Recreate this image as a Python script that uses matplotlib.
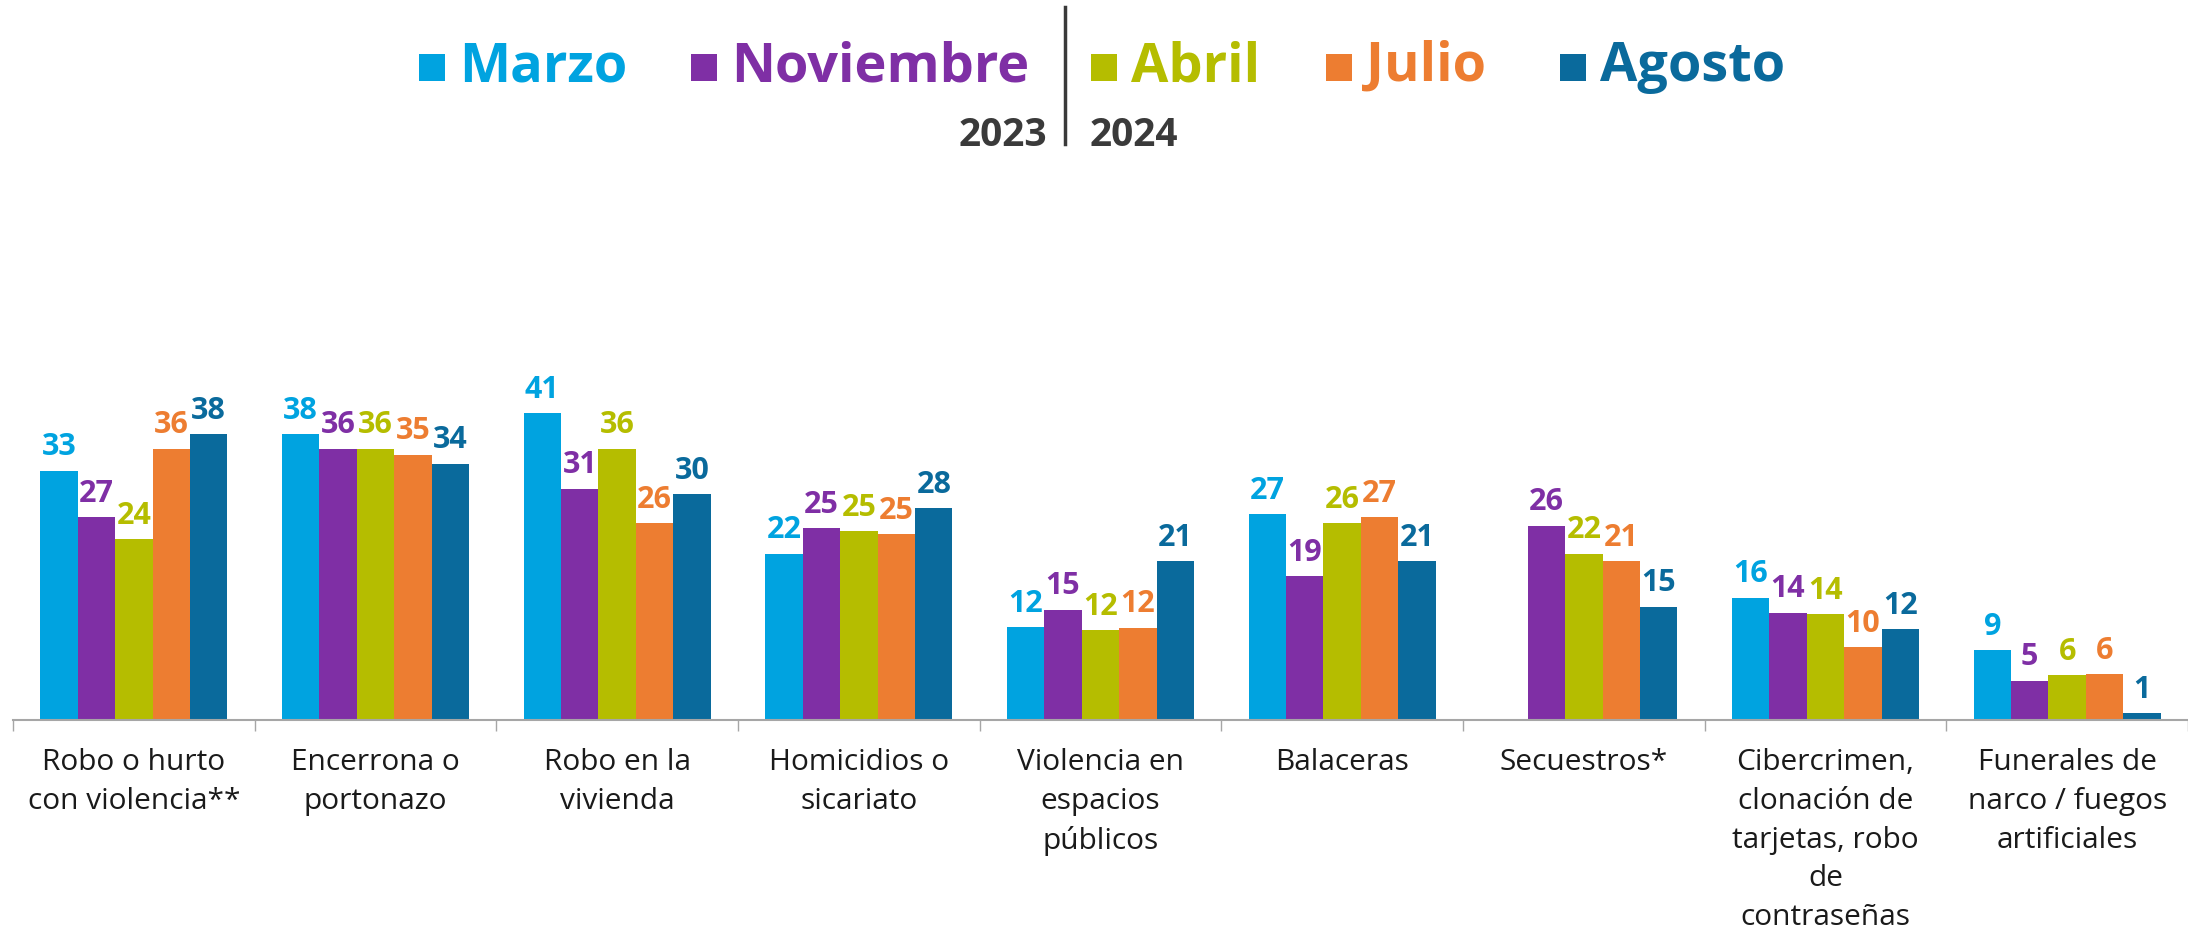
import numpy as np
import matplotlib
matplotlib.use("Agg")
import matplotlib.pyplot as plt
from matplotlib.patches import Rectangle

plt.rcParams['font.family'] = ['Open Sans', 'DejaVu Sans']

# Datos del gráfico
categorias = ["Robo o hurto\ncon violencia**", "Encerrona o\nportonazo", "Robo en la\nvivienda",
              "Homicidios o\nsicariato", "Violencia en\nespacios\npúblicos", "Balaceras",
              "Secuestros*", "Cibercrimen,\nclonación de\ntarjetas, robo\nde\ncontraseñas",
              "Funerales de\nnarco / fuegos\nartificiales"]
series = ["Marzo", "Noviembre", "Abril", "Julio", "Agosto"]
marzo = [33.0, 37.8, 40.6, 22.0, 12.3, 27.2, np.nan, 16.2, 9.2]
noviembre = [26.8, 35.9, 30.6, 25.4, 14.6, 19.0, 25.7, 14.2, 5.2]
abril = [23.9, 35.9, 35.9, 25.0, 11.9, 26.0, 22.0, 14.0, 5.9]
julio = [35.9, 35.1, 26.0, 24.6, 12.2, 26.8, 21.0, 9.6, 6.1]
agosto = [37.8, 33.9, 29.9, 28.0, 21.0, 21.0, 15.0, 12.0, 0.9]
colores = ["#00A3E0", "#7F2FA5", "#B5BD00", "#ED7D31", "#0A6A9C"]

W, H = 2188, 930
fig = plt.figure(figsize=(W / 100, H / 100), dpi=100)
ax = fig.add_axes([13 / W, 210 / H, (W - 13) / W, 570 / H])

x = np.arange(len(categorias))
ancho = 0.155
for i, valores in enumerate([marzo, noviembre, abril, julio, agosto]):
    pos = x + (i - 2) * ancho
    ax.bar(pos, valores, width=ancho, color=colores[i], linewidth=0)
    for xp, v in zip(pos, valores):
        if np.isnan(v):
            continue
        ax.annotate(f"{v:.0f}", (xp, v), xytext=(0, 6), textcoords="offset points",
                    ha="center", va="bottom", fontsize=22, fontweight="bold",
                    color=colores[i])

ax.set_xlim(-0.5, len(categorias) - 0.5)
ax.set_ylim(0, 75.4)
ax.set_yticks([])
for s in ["left", "right", "top"]:
    ax.spines[s].set_visible(False)
ax.spines["bottom"].set_color("#A6A6A6")
ax.spines["bottom"].set_linewidth(1.5)

ax.set_xticks(x)
ax.set_xticklabels(categorias, fontsize=21.5, color="#1A1A1A", linespacing=1.45)
ax.tick_params(axis="x", which="major", length=0, pad=20)
ax.set_xticks(np.arange(len(categorias) + 1) - 0.5, minor=True)
ax.tick_params(axis="x", which="minor", length=8, width=1, color="#A6A6A6")

# Leyenda personalizada
cuadros_x = [419, 691, 1091, 1326, 1560]
for cx, nombre, c in zip(cuadros_x, series, colores):
    fig.add_artist(Rectangle((cx / W, 1 - 81 / H), 26 / W, 27 / H,
                             transform=fig.transFigure, color=c, lw=0))
    fig.text((cx + 40) / W, 1 - 67 / H, nombre, ha="left", va="center",
             fontsize=39, fontweight="bold", color=c)

fig.add_artist(plt.Line2D([1065 / W, 1065 / W], [1 - 7 / H, 1 - 144 / H],
                          transform=fig.transFigure, color="#3A3A3A", lw=2.5))
fig.text(1047 / W, 1 - 136 / H, "2023", ha="right", va="center",
         fontsize=28, fontweight="bold", color="#3A3A3A")
fig.text(1090 / W, 1 - 136 / H, "2024", ha="left", va="center",
         fontsize=28, fontweight="bold", color="#3A3A3A")

fig.savefig("out.png", dpi=100, facecolor="white")
